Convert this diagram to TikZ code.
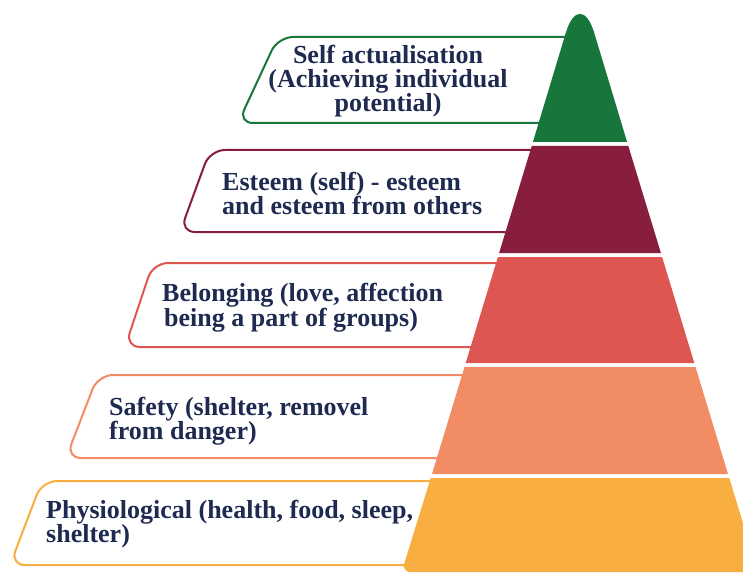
\documentclass[tikz,border=0pt]{standalone}
\usepackage{fontspec}
\setmainfont{Liberation Serif}
\definecolor{cgreen}{HTML}{16763C}
\definecolor{cmaroon}{HTML}{871E3E}
\definecolor{cred}{HTML}{DD5652}
\definecolor{csalmon}{HTML}{F28C64}
\definecolor{cyellow}{HTML}{F8AE40}
\definecolor{cnavy}{HTML}{1E2A50}
\begin{document}
\begin{tikzpicture}[x=1pt,y=-1pt,
  labelbox/.style={line width=2pt, rounded corners=15pt},
  labeltext/.style={font=\fontsize{26}{24}\selectfont\bfseries, text=cnavy, inner sep=0pt}]
\useasboundingbox[fill=white] (0,0) rectangle (743,572);
% label outlines (right ends hidden under the pyramid)
\draw[labelbox, cgreen]   (580,37)  -- (278,37)  -- (238,123) -- (580,123);
\draw[labelbox, cmaroon]  (580,150) -- (210,150) -- (180,232) -- (580,232);
\draw[labelbox, cred]     (580,263) -- (153,263) -- (125,347) -- (580,347);
\draw[labelbox, csalmon]  (580,375) -- (98,375)  -- (66,458)  -- (580,458);
\draw[labelbox, cyellow]  (580,481) -- (42,481)  -- (10,565)  -- (580,565);
% pyramid layers
\fill[cgreen] (532.9,142) -- (565.8,32.8) .. controls (573.6,7.5) and (586.4,7.5) .. (594.2,32.8) -- (627.1,142) -- cycle;
\fill[cmaroon] (531.7,146) -- (628.3,146) -- (660.9,253) -- (499.1,253) -- cycle;
\fill[cred] (497.9,257) -- (662.1,257) -- (694.3,363) -- (465.7,363) -- cycle;
\fill[csalmon] (464.5,367) -- (695.5,367) -- (728.0,474) -- (432.0,474) -- cycle;
\fill[cyellow] (430.7,478) -- (729.3,478) -- (757.8,572) -- (410,572) to[out=180,in=-72] (403.5,566) -- cycle;
% texts
\node[labeltext, align=center] (t1) at (388,81) {Self actualisation\\(Achieving individual\\potential)};
\node[labeltext, align=left, anchor=west] (t2) at (222,193) {Esteem (self) - esteem\\and esteem from others};
\node[labeltext, align=left, anchor=west] (t3) at (162,308) {Belonging (love, affection\\\hspace*{2pt}being a part of groups)};
\node[labeltext, align=left, anchor=west] (t4) at (109,421) {Safety (shelter, removel\\from danger)};
\node[labeltext, align=left, anchor=west] (t5) at (46,524) {Physiological (health, food, sleep,\\shelter)};
\end{tikzpicture}
\end{document}
